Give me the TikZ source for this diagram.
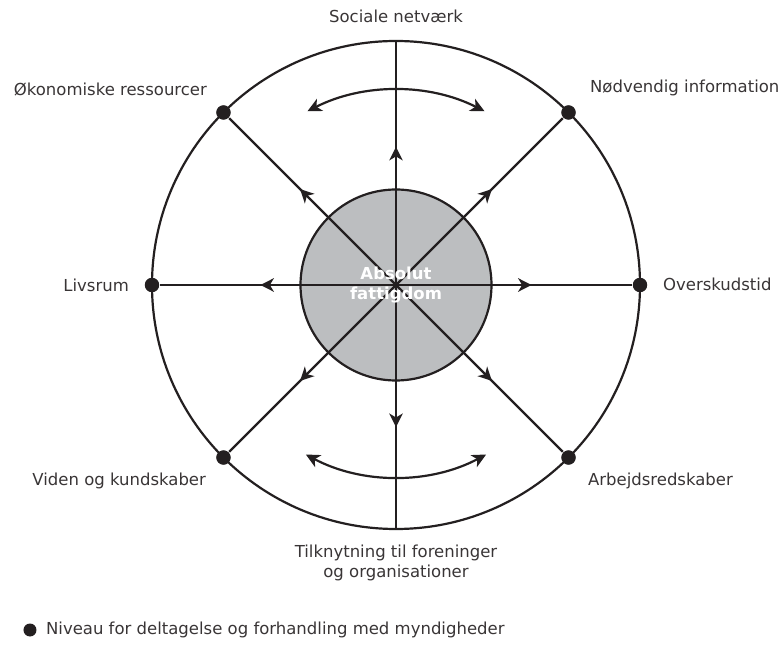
\documentclass[tikz,border=0pt]{standalone}
\usepackage{fontspec}
\setmainfont{DejaVu Sans}
\usetikzlibrary{arrows.meta,decorations.markings}
\definecolor{ink}{HTML}{231F20}
\definecolor{core}{HTML}{BCBEC0}
\begin{document}
\begin{tikzpicture}[x=1pt,y=1pt,
  line width=2.2pt, draw=ink,
  spoke/.style={draw=ink, postaction={decorate},
    decoration={markings, mark=at position #1 with {\arrow{Stealth[length=13.5pt,width=13.5pt,inset=4pt]}}}},
  spoke/.default=0.575,
  dot/.style={circle, fill=ink, inner sep=0pt, minimum size=14pt},
  lbl/.style={font=\fontsize{16.5}{20}\selectfont, text=ink!90!white, inner sep=0pt},
  swing/.style={draw=ink, {Stealth[length=14pt,width=13.5pt,inset=4pt]}-{Stealth[length=14pt,width=13.5pt,inset=4pt]}}
]
\useasboundingbox (-396,-365) rectangle (386,285);
\coordinate (c) at (0,0);
% outer circle
\draw[ink] (c) circle[radius=244];
% inner circle
\node[circle, fill=core, draw=ink, line width=2.2pt, minimum size=191pt, inner sep=0pt] (core) at (c) {};
% endpoints
\coordinate (top) at (90:244);
\coordinate (bot) at (270:244);
\node[dot] (oek) at (135:244) {};
\node[dot] (noed) at (45:244) {};
\node[dot] (liv) at (180:244) {};
\node[dot] (over) at (0:244) {};
\node[dot] (vid) at (225:244) {};
\node[dot] (arb) at (315:244) {};
% spokes
\draw[spoke=0.566] (c) -- (top);
\draw[spoke=0.582] (c) -- (bot);
\draw[spoke] (c) -- (oek);
\draw[spoke] (c) -- (noed);
\draw[spoke] (c) -- (liv);
\draw[spoke] (c) -- (over);
\draw[spoke] (c) -- (vid);
\draw[spoke] (c) -- (arb);
% redraw dots on top
\foreach \n in {oek,noed,liv,over,vid,arb} \fill[ink] (\n) circle[radius=7.2];
% swing arrows
\draw[swing] (117:195) arc[start angle=117, end angle=63, radius=195];
\draw[swing] (242:192) arc[start angle=242, end angle=298, radius=192];
% centre text
\node[font=\bfseries\fontsize{16.5}{20}\selectfont, text=white, align=center, inner sep=0pt] (abs) at (0,0) {Absolut\\fattigdom};
% labels
\node[lbl, anchor=south] (lsoc) at (0,261) {Sociale netværk};
\node[lbl, anchor=east] (loek) at (-188,195) {Økonomiske ressourcer};
\node[lbl, anchor=west] (lnoed) at (193,197) {Nødvendig information};
\node[lbl, anchor=east] (lliv) at (-266,0) {Livsrum};
\node[lbl, anchor=west] (lover) at (266,1) {Overskudstid};
\node[lbl, anchor=east] (lvid) at (-189,-196) {Viden og kundskaber};
\node[lbl, anchor=west] (larb) at (191,-196) {Arbejdsredskaber};
\node[lbl, align=center] (ltil) at (0,-278) {Tilknytning til foreninger\\og organisationer};
% legend
\node[circle, fill=ink, inner sep=0pt, minimum size=13pt] (legdot) at (-366,-345) {};
\node[lbl, anchor=west] (leg) at (-351,-345) {Niveau for deltagelse og forhandling med myndigheder};
\end{tikzpicture}
\end{document}
